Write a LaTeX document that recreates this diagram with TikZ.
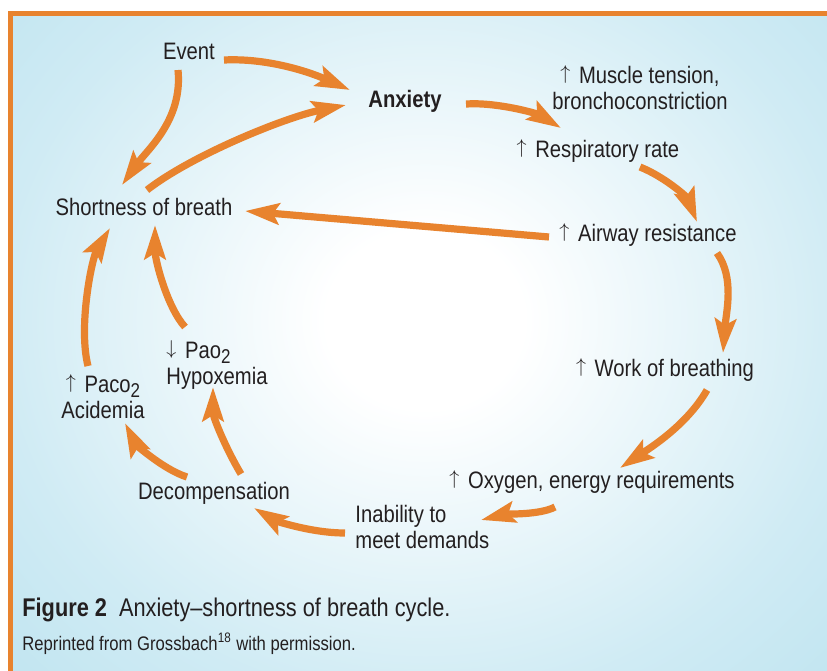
\documentclass[tikz,border=0pt]{standalone}
\usepackage{fontspec}
\setmainfont[FakeStretch=0.85]{Liberation Sans}
\usepackage{xcolor}
\usepackage{tikz}
\usetikzlibrary{arrows.meta}
\definecolor{bgblue}{RGB}{169,219,235}
\definecolor{cycorange}{RGB}{232,131,46}
\definecolor{inkgray}{RGB}{35,31,32}
\colorlet{bgmid}{bgblue!55!white}
\pgfdeclareradialshading{glow}{\pgfpoint{0bp}{0bp}}{color(0bp)=(white); color(3bp)=(white); color(13bp)=(bgmid); color(25bp)=(bgblue); color(50bp)=(bgblue)}
\newcommand\uparr{\raisebox{1.9pt}{\fontsize{9.6}{10}\selectfont$\uparrow$}\hspace{1.5pt}}
\newcommand\downarr{\raisebox{1.9pt}{\fontsize{9.6}{10}\selectfont$\downarrow$}\hspace{1.5pt}}
\newcommand\subtwo{\raisebox{-2.6pt}{\fontsize{10}{10}\selectfont 2}}

\begin{document}
\begin{tikzpicture}[x=0.5pt, y=-0.5pt,
  lbl/.style={inner sep=0pt, text=inkgray, font=\fontsize{11.9}{13}\selectfont},
  cyc/.style={-{Stealth[length=17pt, width=10.5pt, inset=3pt]}, line width=3.6pt, draw=cycorange}]
  \useasboundingbox (0,0) rectangle (827,671);
  % Frame and background
  \fill[cycorange] (8,11) rectangle (827,671);
  \fill[bgblue] (13,16) rectangle (827,671);
  \begin{scope}
    \clip (13,16) rectangle (827,671);
    \shade[shading=glow] (425,320) ellipse [x radius=820, y radius=740];
  \end{scope}
  % Stages of the cycle
  \node[lbl, anchor=base] (ev) at (189,59) {Event};
  \node[lbl, anchor=base] (anx) at (405,107) {\bfseries Anxiety};
  \node[lbl, anchor=north, align=center] (musc) at (640,65) {\uparr{} Muscle tension,\\bronchoconstriction};
  \node[lbl, anchor=base] (resp) at (598,157) {\uparr{} Respiratory rate};
  \node[lbl, anchor=base] (sob) at (144,215) {Shortness of breath};
  \node[lbl, anchor=base] (air) at (648,241) {\uparr{} Airway resistance};
  \node[lbl, anchor=base] (work) at (665,376) {\uparr{} Work of breathing};
  \node[lbl, anchor=base] (oxy) at (592,488) {\uparr{} Oxygen, energy requirements};
  \node[lbl, anchor=north west, align=left] (inab) at (355,505) {Inability to\\meet demands};
  \node[lbl, anchor=base] (dec) at (214,499) {Decompensation};
  \node[lbl, anchor=north west, align=left] (hypo) at (166,340) {\downarr{} Pao\subtwo\\Hypoxemia};
  \node[lbl, anchor=north, align=center] (acid) at (103,374) {\uparr{} Paco\subtwo\\Acidemia};
  % Arrows out of the event and back into anxiety
  \draw[cyc] ([shift={(35,1)}]ev.base) .. controls +(40,-2) and +(-45,-20) .. ([shift={(-55,-17)}]anx.base);
  \draw[cyc] ([shift={(-11,11)}]ev.base) .. controls +(5,50) and +(25,-35) .. ([shift={(-22,-30)}]sob.base);
  \draw[cyc] ([shift={(3,-25)}]sob.base) .. controls +(45,-35) and +(-60,12) .. ([shift={(-59,-2)}]anx.base);
  % Right side of the cycle
  \draw[cyc] ([shift={(61,-3)}]anx.base) .. controls +(30,-2) and +(-25,-15) .. ([shift={(-37,-29)}]resp.base);
  \draw[cyc] ([shift={(42,10)}]resp.base) .. controls +(25,10) and +(-10,-25) .. ([shift={(49,-19)}]air.base);
  \draw[cyc] ([shift={(-99,-4)}]air.base) -- ([shift={(101,-4)}]sob.base);
  \draw[cyc] ([shift={(69,12)}]air.base) .. controls +(18,25) and +(3,-40) .. ([shift={(58,-23)}]work.base);
  \draw[cyc] ([shift={(42,14)}]work.base) .. controls +(-20,35) and +(30,-20) .. ([shift={(28,-20)}]oxy.base);
  % Bottom and left side
  \draw[cyc] ([shift={(-37,19)}]oxy.base) .. controls +(-15,8) and +(25,-6) .. ([shift={(126,15)}]inab.north west);
  \draw[cyc] ([shift={(-10,28)}]inab.north west) .. controls +(-35,0) and +(20,12) .. ([shift={(40,9)}]dec.base);
  \draw[cyc] ([shift={(-27,-22)}]dec.base) .. controls +(-25,-8) and +(10,20) .. ([shift={(22,49)}]acid.north);
  \draw[cyc] ([shift={(27,-25)}]dec.base) .. controls +(-15,-25) and +(0,30) .. ([shift={(47,47)}]hypo.north west);
  \draw[cyc] ([shift={(19,-13)}]hypo.north west) .. controls +(-18,-20) and +(0,35) .. ([shift={(11,10)}]sob.base);
  \draw[cyc] ([shift={(-15,-8)}]acid.north) .. controls +(-10,-40) and +(-18,30) .. ([shift={(-34,13)}]sob.base);
  % Caption
  \node[anchor=base west, inner sep=0pt, text=inkgray, font=\fontsize{12.8}{14}\selectfont] (figcap) at (22,616) {\textbf{Figure 2}\hspace{6pt}Anxiety–shortness of breath cycle.};
  \node[anchor=base west, inner sep=0pt, text=inkgray, font=\fontsize{9.8}{11}\selectfont] (credit) at (22,650) {Reprinted from Grossbach\textsuperscript{18} with permission.};
\end{tikzpicture}
\end{document}
